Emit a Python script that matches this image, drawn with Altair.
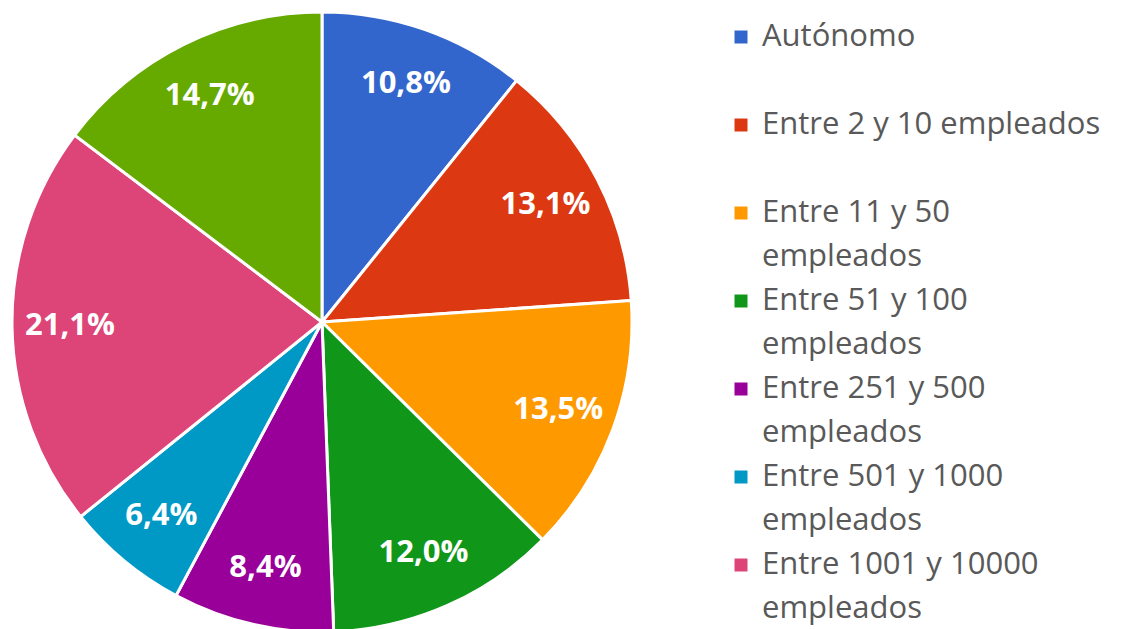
import altair as alt
import pandas as pd

categories = [
    "Autónomo",
    "Entre 2 y 10 empleados",
    "Entre 11 y 50 empleados",
    "Entre 51 y 100 empleados",
    "Entre 251 y 500 empleados",
    "Entre 501 y 1000 empleados",
    "Entre 1001 y 10000 empleados",
    "Más de 10000 empleados",
]
values = [10.8, 13.1, 13.5, 12.0, 8.4, 6.4, 21.1, 14.7]
colors = ["#3366CC", "#DC3912", "#FF9900", "#109618", "#990099", "#0099C6", "#DD4477", "#66AA00"]

legend_line1 = ["Autónomo", "Entre 2 y 10 empleados", "Entre 11 y 50", "Entre 51 y 100",
                "Entre 251 y 500", "Entre 501 y 1000", "Entre 1001 y 10000"]
legend_line2 = ["", "", "empleados", "empleados", "empleados", "empleados", "empleados"]

pie_df = pd.DataFrame({
    "cat": categories,
    "value": values,
    "idx": list(range(len(categories))),
    "label": [f"{v:.1f}".replace(".", ",") + "%" for v in values],
})

leg_df = pd.DataFrame({
    "cat": categories[:len(legend_line1)],
    "row": list(range(len(legend_line1))),
    "l1": legend_line1,
    "l2": legend_line2,
})

color_scale = alt.Scale(domain=categories, range=colors)
FONT = "Open Sans"

base = alt.Chart(pie_df).encode(
    theta=alt.Theta("value:Q", stack=True),
    order=alt.Order("idx:Q"),
    x=alt.value(314),
    y=alt.value(314),
)

arcs = base.mark_arc(radius=310, stroke="white", strokeWidth=3).encode(
    color=alt.Color("cat:N", scale=color_scale, legend=None)
)

labels = base.mark_text(radius=252, font=FONT, fontSize=31, fontWeight="bold",
                        color="white", align="center", baseline="middle").encode(
    text="label:N"
)

yscale = alt.Scale(domain=[0, 7], range=[29, 645])

leg_base = alt.Chart(leg_df).encode(
    y=alt.Y("row:Q", scale=yscale, axis=None)
)

squares = leg_base.mark_square(size=169, opacity=1).encode(
    x=alt.value(733),
    color=alt.Color("cat:N", scale=color_scale, legend=None),
)

text1 = leg_base.mark_text(align="left", baseline="middle", font=FONT, fontSize=31,
                           color="#595959").encode(
    x=alt.value(754), text="l1:N"
)
text2 = leg_base.mark_text(align="left", baseline="middle", font=FONT, fontSize=31,
                           color="#595959", dy=44).encode(
    x=alt.value(754), text="l2:N"
)

chart = alt.layer(arcs, labels, squares, text1, text2).resolve_scale(
    color="shared"
).properties(
    width=1106, height=621,
    autosize=alt.AutoSizeParams(type="none"),
    padding=0,
).configure_view(stroke=None)

chart.save("out.html", embed_options={"renderer": "svg", "actions": False})
